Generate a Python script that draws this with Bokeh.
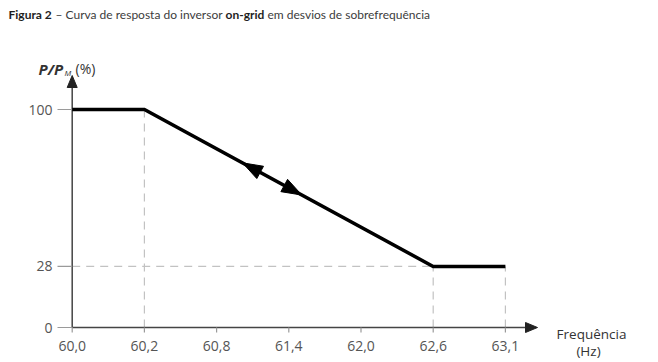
import math
from bokeh.plotting import figure
from bokeh.models import Range1d
from bokeh.core.properties import value
from bokeh.embed import file_html
from bokeh.resources import INLINE

# ---- data ----
freq_labels = ["60,0", "60,2", "60,8", "61,4", "62,0", "62,6", "63,1"]
curve_freq = ["60,0", "60,2", "62,6", "63,1"]
curve_p = [100, 100, 28, 28]
y_ticks = [0, 28, 100]
y_tick_labels = ["0", "28", "100"]

idx = {f: i for i, f in enumerate(freq_labels)}
cx = [idx[f] for f in curve_freq]
x_ticks = list(range(len(freq_labels)))

# ---- layout (pixel placement of the plotting area) ----
W, H = 658, 362
X0PX, DXPX = 71.7, 72.2     # pixel of first category, pixels per category step
Y0PX, DYPX = 327.0, 2.18    # pixel of 0 %, pixels per percent


def xd(px):
    return (px - X0PX) / DXPX


def yd(py):
    return (Y0PX - py) / DYPX


def head(tx, ty, dx, dy, length, half):
    """triangle (in data units) with tip at (tx, ty) pointing along data direction (dx, dy)"""
    X, Y = tx * DXPX, ty * DYPX
    ux, uy = dx * DXPX, dy * DYPX
    n = math.hypot(ux, uy)
    ux, uy = ux / n, uy / n
    nx, ny = -uy, ux
    bx, by = X - length * ux, Y - length * uy
    pts = [(X, Y), (bx + half * nx, by + half * ny), (bx - half * nx, by - half * ny)]
    return [q[0] / DXPX for q in pts], [q[1] / DYPX for q in pts]


p = figure(width=W, height=H, output_backend="svg", toolbar_location=None,
           x_range=Range1d(xd(0), xd(W)), y_range=Range1d(yd(H), yd(0)),
           x_axis_location=None, y_axis_location=None,
           min_border=0, min_border_left=0, min_border_right=0,
           min_border_top=0, min_border_bottom=0)
p.outline_line_color = None
p.background_fill_color = "white"
p.border_fill_color = "white"
p.grid.visible = False

ax_col = "#444444"
tick_col = "#9a9a9a"
lab_col = "#555555"
txt_col = "#333333"

x_tip = xd(537)
y_tip = yd(75)

# dashed guides
dash_col = "#c2c2c2"
gx0 = [cx[1], cx[2], cx[3], 0]
gy0 = [0, 0, 0, curve_p[2]]
gx1 = [cx[1], cx[2], cx[3], cx[2]]
gy1 = [curve_p[1], curve_p[2], curve_p[3], curve_p[2]]
p.segment(gx0, gy0, gx1, gy1, line_color=dash_col, line_width=1.2, line_dash="8 6")

# axis lines
p.segment([0, 0], [0, 0], [xd(530), 0], [0, yd(82)],
          line_color=ax_col, line_width=1.5)
# ticks
p.segment(x_ticks, [0] * len(x_ticks), x_ticks, [yd(Y0PX + 5)] * len(x_ticks),
          line_color=tick_col, line_width=1.2)
p.segment([xd(57)] * len(y_ticks), y_ticks, [0] * len(y_ticks), y_ticks,
          line_color=tick_col, line_width=1.2)

# axis arrowheads
hx1, hy1 = head(0, y_tip, 0, 1, 12, 5)
hx2, hy2 = head(x_tip, 0, 1, 0, 12, 5)
p.patches([hx1, hx2], [hy1, hy2], fill_color="#222222", line_color="#222222", line_width=1)

# tick labels
p.text(x=x_ticks, y=[yd(345)] * len(x_ticks), text=freq_labels,
       text_font=value("Open Sans"), text_font_size=value("14px"),
       text_color=lab_col, text_align="center", text_baseline="middle")
p.text(x=[xd(52)] * len(y_ticks), y=y_ticks, text=y_tick_labels,
       text_font=value("Open Sans"), text_font_size=value("14px"),
       text_color=lab_col, text_align="right", text_baseline="middle")

# response curve
p.line(cx, curve_p, line_color="black", line_width=3.5, line_join="miter")

# arrowheads on the diagonal (both directions of the hysteresis path)
ddx, ddy = cx[2] - cx[1], curve_p[2] - curve_p[1]


def along(t):
    return (cx[1] + ddx * t, curve_p[1] + ddy * t)


t_up, t_down = 0.34, 0.545
ax1, ay1 = along(t_up)
ax2, ay2 = along(t_down)
h1x, h1y = head(ax1, ay1, -ddx, -ddy, 20, 7)
h2x, h2y = head(ax2, ay2, ddx, ddy, 20, 7)
p.patches([h1x, h2x], [h1y, h2y], fill_color="black", line_color="black", line_width=1)

# y-axis label P/P_M (%)
p.text(x=[xd(38)], y=[yd(68)], text=["P/P"], text_font=value("Open Sans"),
       text_font_style="bold italic", text_font_size=value("15px"),
       text_color=txt_col, text_align="left", text_baseline="alphabetic")
p.text(x=[xd(64)], y=[yd(72)], text=["M"], text_font=value("Open Sans"),
       text_font_style="italic", text_font_size=value("8px"),
       text_color=txt_col, text_align="left", text_baseline="alphabetic")
p.text(x=[xd(75)], y=[yd(68)], text=["(%)"], text_font=value("Open Sans"),
       text_font_size=value("14px"),
       text_color=txt_col, text_align="left", text_baseline="alphabetic")

# x-axis label
p.text(x=[xd(591), xd(588)], y=[yd(333), yd(350)], text=["Frequência", "(Hz)"],
       text_font=value("Open Sans"), text_font_size=value("13.5px"),
       text_color=txt_col, text_align="center", text_baseline="alphabetic")

# title
title_text = ["Figura 2", "– Curva de resposta do inversor", "on-grid",
              "em desvios de sobrefrequência"]
title_bold = [True, False, True, False]
title_xpx = [8, 55, 225, 267]
for txt, b, xpx in zip(title_text, title_bold, title_xpx):
    p.text(x=[xd(xpx)], y=[yd(14)], text=[txt], text_font=value("Lato"),
           text_font_style="bold" if b else "normal", text_font_size=value("12px"),
           text_color="#1e1e1e" if b else "#3c3c3c", text_align="left", text_baseline="middle")

open("out.html", "w").write(file_html(p, INLINE))
